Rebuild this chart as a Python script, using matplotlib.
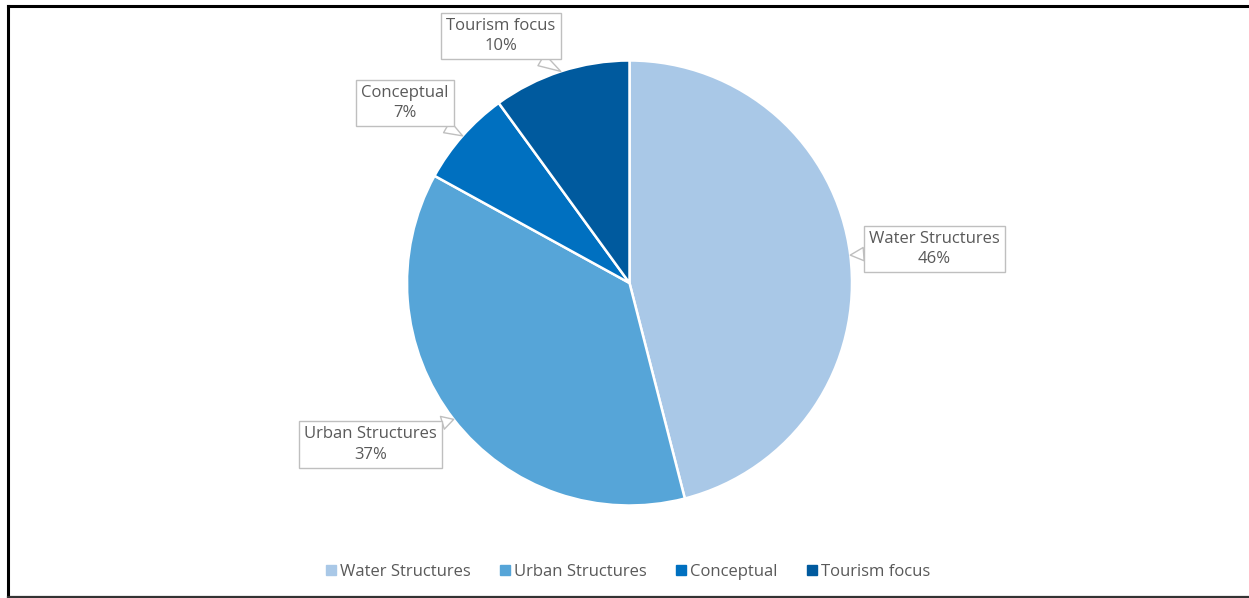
import numpy as np
import matplotlib
matplotlib.use("Agg")
import matplotlib.pyplot as plt
from matplotlib.lines import Line2D

# ===============================================================================

categories = ["Water Structures", "Urban Structures", "Conceptual", "Tourism focus"]
shares = [46, 37, 7, 10]
colors = ["#A9C8E7", "#56A5D8", "#0070C0", "#005A9E"]

# label box centres (data units, pie radius = 1)
label_pos = [(1.371, 0.153), (-1.164, -0.726), (-1.009, 0.809), (-0.578, 1.110)]

plt.rcParams['font.family'] = ['Open Sans', 'DejaVu Sans']
txtc = "#595959"

# ===============================================================================

W, H = 1249, 598
fig = plt.figure(figsize=(W / 100, H / 100), dpi=100)

cx, cy, r = 629.5, 283, 222.5
ax = fig.add_axes([(cx - r) / W, (H - cy - r) / H, 2 * r / W, 2 * r / H])

wedges, _ = ax.pie(shares, colors=colors, startangle=90, counterclock=False,
                   radius=1, wedgeprops=dict(edgecolor='white', linewidth=1.8))
ax.set_xlim(-1, 1)
ax.set_ylim(-1, 1)
ax.set_aspect('equal')
ax.axis('off')

for w, cat, s, pos in zip(wedges, categories, shares, label_pos):
    mid = np.deg2rad((w.theta1 + w.theta2) / 2)
    tip = (np.cos(mid), np.sin(mid))
    ax.annotate(f"{cat}\n{s}%", xy=tip, xytext=pos, ha='center', va='center',
                fontsize=12, color=txtc, linespacing=1.4, annotation_clip=False,
                bbox=dict(boxstyle='square,pad=0.3', fc='white', ec='#BFBFBF', lw=1),
                arrowprops=dict(arrowstyle='wedge,tail_width=0.8', fc='white',
                                ec='#BFBFBF', lw=1, shrinkA=0, shrinkB=0))

# ===============================================================================

handles = [Line2D([], [], ls='', marker='s', ms=7, mfc=c, mec=c) for c in colors]
fig.legend(handles, categories, loc='center', bbox_to_anchor=(0.5 + 3 / W, (H - 572) / H),
           ncol=4, frameon=False, fontsize=12, labelcolor=txtc,
           handlelength=0.7, handletextpad=0.2, columnspacing=1.7)

# frame lines (top, left, bottom)
fig.add_artist(Line2D([8 / W, 1], [1 - 6 / H, 1 - 6 / H], color='black', lw=2.2))
fig.add_artist(Line2D([8 / W, 8 / W], [1 - 6 / H, 1.5 / H], color='black', lw=2.2))
fig.add_artist(Line2D([8 / W, 1], [1.5 / H, 1.5 / H], color='#333333', lw=1.6))

fig.savefig("out.png", dpi=100, facecolor='white')
